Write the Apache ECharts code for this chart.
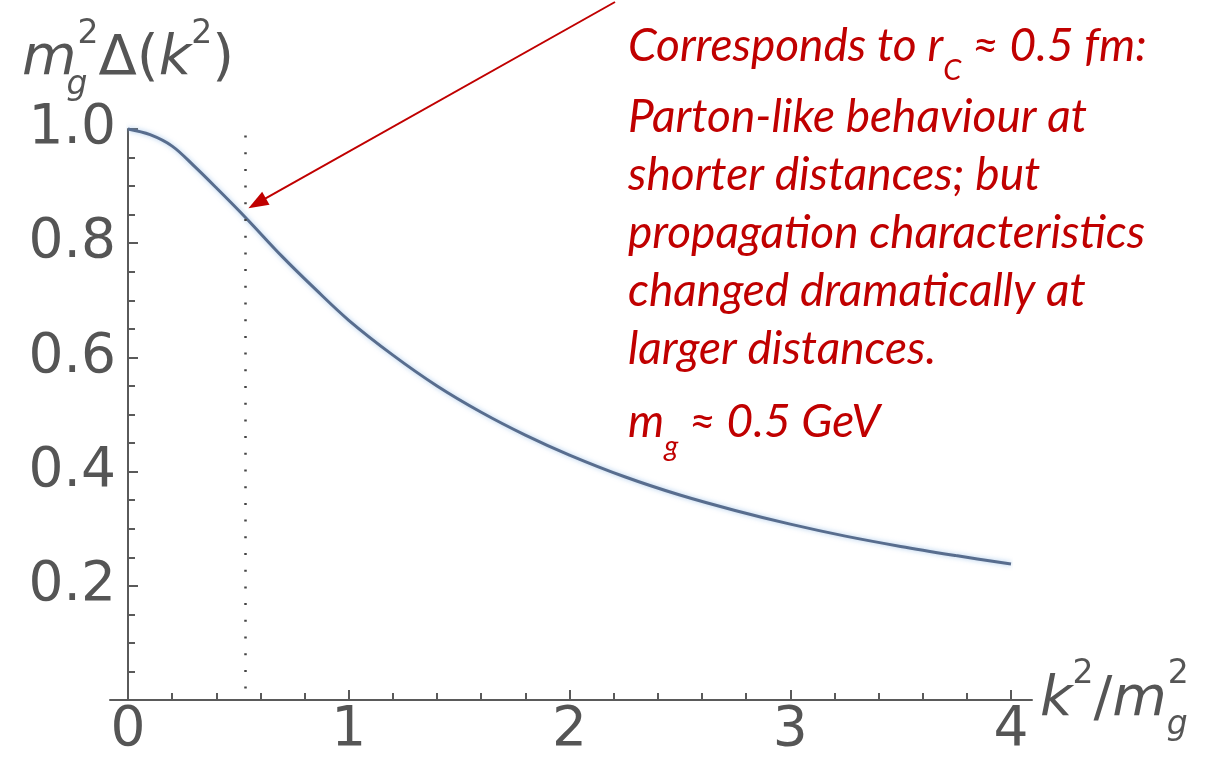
<!DOCTYPE html>
<html>
<head>
<meta charset="utf-8">
<script src="https://cdn.jsdelivr.net/npm/echarts@6/dist/echarts.min.js"></script>
<style>
  html, body { margin: 0; padding: 0; background: #fff; }
  #chart { width: 1211px; height: 766px; }
</style>
</head>
<body>
<div id="chart"></div>
<script>
// curve: k^2/m_g^2 -> m_g^2 Delta(k^2)
const kValues = [0, 0.1, 0.2, 0.3, 0.4, 0.53, 0.7, 0.85, 1.0, 1.2, 1.4, 1.6, 1.8, 2.0, 2.25, 2.5, 2.75, 3.0, 3.25, 3.5, 3.75, 4.0];
const deltaValues = [1.0, 0.99, 0.97, 0.935, 0.897, 0.846, 0.776, 0.719, 0.665, 0.604, 0.55, 0.504, 0.464, 0.429, 0.391, 0.359, 0.332, 0.308, 0.287, 0.269, 0.253, 0.238];

// vertical dotted marker (r_C) and arrow from the note down to the curve
const markerK = 0.53;
const arrowTo = [0.585, 0.87];

const noteLines = [
    'Corresponds to {i|r}{sub|C} ≈ 0.5 fm:',
    'Parton-like behaviour at',
    'shorter distances; but',
    'propagation characteristics',
    'changed dramatically at',
    'larger distances.',
    '{i|m}{sub|g} ≈ 0.5 GeV'
];
const noteY = [52, 123, 181, 239, 297, 355, 428];

const axisGray = '#5a5a5a';
const labelGray = '#555';
const red = '#c00000';
const labelFont = 'DejaVu Sans';
const noteSize = 46;

const chart = echarts.init(document.getElementById('chart'));

const seriesData = kValues.map((k, i) => [k, deltaValues[i]]);

const nameRich = {
    i: { fontFamily: labelFont, fontStyle: 'italic', fontSize: 56, color: labelGray, verticalAlign: 'middle' },
    n: { fontFamily: labelFont, fontSize: 56, color: labelGray, verticalAlign: 'middle' },
    sup: { fontFamily: labelFont, fontSize: 33, color: labelGray, verticalAlign: 'top' },
    subs: { fontFamily: labelFont, fontStyle: 'italic', fontSize: 33, color: labelGray, verticalAlign: 'bottom', width: 1 }
};

const noteRich = {
    i: { fontFamily: 'Lato', fontStyle: 'italic', fontSize: noteSize, color: red },
    sub: { fontFamily: 'Lato', fontStyle: 'italic', fontSize: 29, color: red, verticalAlign: 'bottom', padding: [0, 0, -16, 0] }
};

const option = {
    animation: false,
    backgroundColor: '#fff',
    grid: [
        { left: 128, right: 200, top: 129, bottom: 66 },
        { left: 110, right: 179, top: 129, bottom: 66 }
    ],
    xAxis: [
        {
            type: 'value',
            gridIndex: 0,
            min: 0,
            max: 4,
            interval: 1,
            axisLine: { show: false },
            axisTick: { show: true, inside: true, length: 10, lineStyle: { color: axisGray, width: 2 } },
            minorTick: { show: true, splitNumber: 5, length: 7, lineStyle: { color: axisGray, width: 2 } },
            splitLine: { show: false },
            axisLabel: { fontFamily: labelFont, fontSize: 55, color: labelGray, margin: 3 }
        },
        {
            type: 'value',
            gridIndex: 1,
            min: 0,
            max: 1,
            axisLine: { show: true, lineStyle: { color: axisGray, width: 2 } },
            axisTick: { show: false },
            axisLabel: { show: false },
            splitLine: { show: false },
            name: '{i|k}{sup|2}{n|/}{i|m}{subs|g}{sup|2}',
            nameLocation: 'end',
            nameGap: 8,
            nameTextStyle: { rich: nameRich, lineHeight: 84 }
        }
    ],
    yAxis: [
        {
            type: 'value',
            gridIndex: 0,
            min: 0,
            max: 1,
            interval: 0.2,
            axisLine: { show: true, lineStyle: { color: axisGray, width: 2 } },
            axisTick: { show: true, inside: true, length: 10, lineStyle: { color: axisGray, width: 2 } },
            minorTick: { show: true, splitNumber: 4, length: 7, lineStyle: { color: axisGray, width: 2 } },
            splitLine: { show: false },
            axisLabel: {
                fontFamily: labelFont,
                fontSize: 55,
                color: labelGray,
                margin: 12,
                formatter: v => (v === 0 ? '' : v.toFixed(1))
            },
            name: '{i|m}{subs|g}{sup|2}{n|Δ(}{i|k}{sup|2}{n|)}',
            nameLocation: 'end',
            nameGap: 24,
            nameTextStyle: { rich: nameRich, lineHeight: 84, align: 'center' }
        },
        {
            type: 'value',
            gridIndex: 1,
            show: false
        }
    ],
    series: [{
        type: 'line',
        xAxisIndex: 0,
        yAxisIndex: 0,
        data: seriesData,
        smooth: 0.35,
        symbol: 'none',
        clip: false,
        lineStyle: {
            color: '#586d8e',
            width: 3,
            shadowColor: 'rgba(130,175,225,0.7)',
            shadowBlur: 5
        },
        markLine: {
            silent: true,
            animation: false,
            label: { show: false },
            data: [
                [
                    { coord: [markerK, 0.02], symbol: 'none' },
                    {
                        coord: [markerK, 0.99], symbol: 'none',
                        lineStyle: { color: '#444', width: 2.5, type: [2, 14.7] }
                    }
                ],
                [
                    { x: 615, y: 2, symbol: 'none' },
                    {
                        coord: arrowTo, symbol: 'triangle', symbolSize: [15, 20],
                        lineStyle: { color: red, width: 2, type: 'solid' },
                        itemStyle: { color: red }
                    }
                ]
            ]
        }
    }],
    graphic: noteLines.map((t, i) => ({
        type: 'text',
        left: 628,
        top: noteY[i] - Math.round(noteSize * 0.62),
        style: {
            text: t,
            fontFamily: 'Lato',
            fontStyle: 'italic',
            fontSize: noteSize,
            fill: red,
            rich: noteRich
        }
    }))
};

chart.setOption(option);
</script>
</body>
</html>
